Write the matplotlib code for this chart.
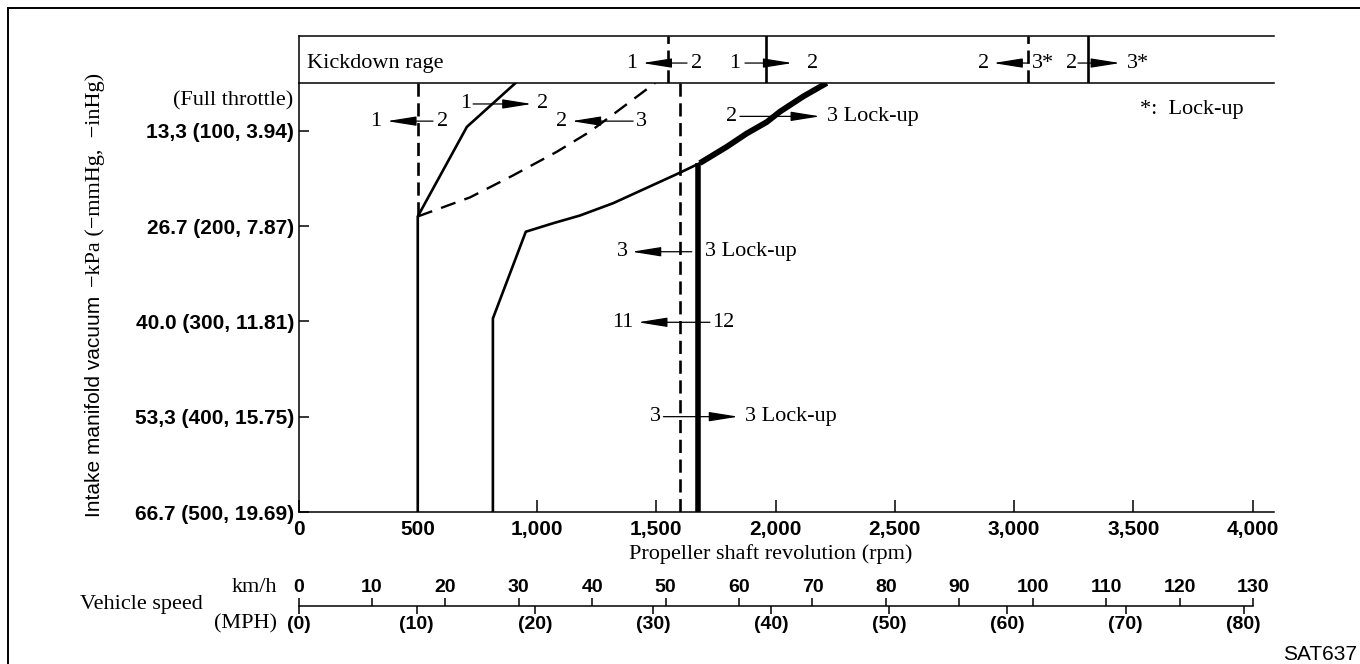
import matplotlib
matplotlib.use("Agg")
from matplotlib import pyplot as plt
from matplotlib.lines import Line2D

SERIF = "Liberation Serif"
SANS = "Liberation Sans"

# shift lines: propeller shaft rpm vs manifold vacuum (-mmHg)
up12_rpm = [910, 706, 500, 500]
up12_vac = [50, 96, 190, 500]
down21_rpm = [500, 500]
down21_vac = [50, 190]
down32_rpm = [500, 719, 899, 1084, 1222, 1335, 1495]
down32_vac = [190, 170, 147, 122, 101, 80, 50]
up23_rpm = [815, 815, 953, 1069, 1180, 1320, 1460, 1600, 1683]
up23_vac = [500, 297, 206, 197, 189, 176, 160, 144, 134]
lockup_rpm = [1683, 1795, 1879, 1963, 2019, 2117, 2215]
lockup_vac = [134, 117, 103, 91, 80, 64, 50]
lockon_rpm = [1675, 1675]
lockon_vac = [134, 500]
lockoff_rpm = [1600, 1600]
lockoff_vac = [50, 500]

# kickdown range shift points (rpm)
kd_rpm = [1550, 1960, 3060, 3310]
kd_dashed = [True, False, True, False]

# arrows: left text, its right edge, right text, its left edge, tail, head, vacuum
main_arrows = [
    ("1", 346, "2", 581, 564, 371, 90),
    ("1", 726, "2", 998, 732, 978, 72),
    ("2", 1126, "3", 1415, 1403, 1145, 90),
    ("2", 1839, "3 Lock-up", 2215, 1851, 2187, 85),
    ("3", 1382, "3 Lock-up", 1704, 1649, 1397, 227),
    ("11", 1406, "12", 1734, 1725, 1423, 301),
    ("3", 1518, "3 Lock-up", 1872, 1530, 1844, 400),
]
kd_arrows = [
    ("1", 1420, "2", 1644, 1629, 1442),
    ("1", 1853, "2", 2130, 1872, 2071),
    ("2", 2894, "3*", 3076, 3063, 2913),
    ("2", 3266, "3*", 3473, 3268, 3445),
]

rpm_ticks = [0, 500, 1000, 1500, 2000, 2500, 3000, 3500, 4000]
rpm_labels = ["0", "500", "1,000", "1,500", "2,000", "2,500", "3,000", "3,500", "4,000"]
vac_ticks = [100, 200, 300, 400, 500]
vac_labels = ["13,3 (100, 3.94)", "26.7 (200, 7.87)", "40.0 (300, 11.81)",
              "53,3 (400, 15.75)", "66.7 (500, 19.69)"]
kmh_ticks = [0, 10, 20, 30, 40, 50, 60, 70, 80, 90, 100, 110, 120, 130]
mph_ticks = [0, 10, 20, 30, 40, 50, 60, 70, 80]

W, H = 1360, 664
fig = plt.figure(figsize=(W / 100, H / 100), dpi=100)

def fx(px):
    return px / W

def fy(py):
    return 1 - py / H

left, right = 298.5, 1274
ax = fig.add_axes([fx(left), fy(512), fx(right - left), fy(83) - fy(512)])
axk = fig.add_axes([fx(left), fy(83), fx(right - left), fy(35.5) - fy(83)], sharex=ax)
axs = fig.add_axes([fx(left), fy(606), fx(1253 - left), 0.0001])

ax.set_xlim(0, 4090)
ax.set_ylim(500, 50)

thin = dict(color="black", lw=1.9, solid_joinstyle="miter")
ax.plot(up12_rpm, up12_vac, **thin)
ax.plot(down21_rpm, down21_vac, color="black", lw=1.9, linestyle=(0, (5, 2.5)))
ax.plot(down32_rpm, down32_vac, color="black", lw=1.7, linestyle=(0, (6.5, 4)))
ax.plot(up23_rpm, up23_vac, color="black", lw=1.9, solid_joinstyle="round")
ax.plot(lockup_rpm, lockup_vac, color="black", lw=4.2, solid_capstyle="butt",
        solid_joinstyle="round")
ax.plot(lockon_rpm, lockon_vac, color="black", lw=4.0, solid_capstyle="butt")
ax.plot(lockoff_rpm, lockoff_vac, color="black", lw=1.9, linestyle=(0, (5, 2.5)))

for s in ["top", "right"]:
    ax.spines[s].set_visible(False)
for s in ["left", "bottom"]:
    ax.spines[s].set_linewidth(1.1)

ax.set_xticks(rpm_ticks, rpm_labels)
ax.set_yticks(vac_ticks, vac_labels)
ax.tick_params(axis="x", direction="in", length=8.5, width=1.1, pad=6)
ax.tick_params(axis="y", direction="in", length=7, width=1.1, pad=3)
for t in ax.get_xticklabels():
    t.set_fontfamily(SANS)
    t.set_fontweight("bold")
    t.set_fontsize(15)
for t in ax.get_yticklabels():
    t.set_fontfamily(SANS)
    t.set_fontweight("bold")
    t.set_fontsize(15)

ax.text(-0.005, 69, "(Full throttle)", transform=ax.get_yaxis_transform(),
        ha="right", va="center", family=SERIF, fontsize=16)
ax.text(3529, 78, "*:  Lock-up", ha="left", va="center", family=SERIF, fontsize=16)
ax.set_xlabel("Propeller shaft revolution (rpm)", family=SERIF, fontsize=16)
ax.xaxis.set_label_coords(0.484, -0.074)

arrow_style = dict(arrowstyle="-|>,head_length=1.5,head_width=0.24", color="black",
                   lw=0.9, shrinkA=0, shrinkB=0, mutation_scale=12)

def shift_arrow(a, lt, lx, rt, rx, tail, head, y):
    a.annotate("", xy=(head, y), xytext=(tail, y), arrowprops=arrow_style)
    a.text(lx, y, lt, ha="right", va="center", family=SERIF, fontsize=16)
    a.text(rx, y, rt, ha="left", va="center", family=SERIF, fontsize=16)

for lt, lx, rt, rx, tail, head, v in main_arrows:
    shift_arrow(ax, lt, lx, rt, rx, tail, head, v)

# kickdown box
axk.set_ylim(0, 1)
for x, d in zip(kd_rpm, kd_dashed):
    axk.plot([x, x], [0, 1], color="black", lw=1.9,
             linestyle=(0, (5, 2.5)) if d else "-")
for s in ["top", "bottom", "left"]:
    axk.spines[s].set_linewidth(1.1)
axk.spines["right"].set_visible(False)
axk.tick_params(left=False, bottom=False, labelleft=False, labelbottom=False)
axk.text(0.009, 0.42, "Kickdown rage", transform=axk.transAxes, ha="left",
         va="center", family=SERIF, fontsize=16)
for lt, lx, rt, rx, tail, head in kd_arrows:
    shift_arrow(axk, lt, lx, rt, rx, tail, head, 0.42)

# vehicle speed scale
axs.set_xlim(0, 130)
for s in ["top", "left", "right", "bottom"]:
    axs.spines[s].set_visible(False)
axs.set_yticks([])
axs.xaxis.set_ticks_position("top")
axs.set_xticks(kmh_ticks, [str(k) for k in kmh_ticks])
axs.tick_params(axis="x", direction="out", length=5.5, width=1.1, pad=2,
                top=True, bottom=False, labeltop=True, labelbottom=False)
sec = axs.secondary_xaxis("bottom", functions=(lambda k: k / 1.609344, lambda m: m * 1.609344))
sec.set_xticks(mph_ticks, ["(%d)" % m for m in mph_ticks])
sec.tick_params(axis="x", direction="out", length=5.5, width=1.1, pad=2)
sec.spines["bottom"].set_linewidth(1.1)
for t in axs.get_xticklabels() + sec.get_xticklabels():
    t.set_fontfamily(SANS)
    t.set_fontweight("bold")
    t.set_fontsize(14)

fig.text(fx(203), fy(605), "Vehicle speed", ha="right", va="center", family=SERIF, fontsize=16)
fig.text(fx(277), fy(588), "km/h", ha="right", va="center", family=SERIF, fontsize=16)
fig.text(fx(277), fy(624), "(MPH)", ha="right", va="center", family=SERIF, fontsize=16)

# y axis title, sans and serif parts
fig.text(fx(100), fy(517), "Intake manifold vacuum", rotation=90, rotation_mode="anchor",
         ha="left", va="baseline", family=SANS, fontsize=15)
fig.text(fx(100), fy(287), "\u2212kPa (\u2212mmHg,  \u2212inHg)", rotation=90,
         rotation_mode="anchor", ha="left", va="baseline", family=SERIF, fontsize=16)

fig.text(fx(1357), fy(655), "SAT637", ha="right", va="center", family=SANS, fontsize=15)

# outer frame
fig.add_artist(Line2D([fx(8), 1], [fy(7.5), fy(7.5)], transform=fig.transFigure, color="black", lw=1.4))
fig.add_artist(Line2D([fx(8), fx(8)], [0, fy(7.5)], transform=fig.transFigure, color="black", lw=1.4))

fig.savefig("out.png", dpi=100)
